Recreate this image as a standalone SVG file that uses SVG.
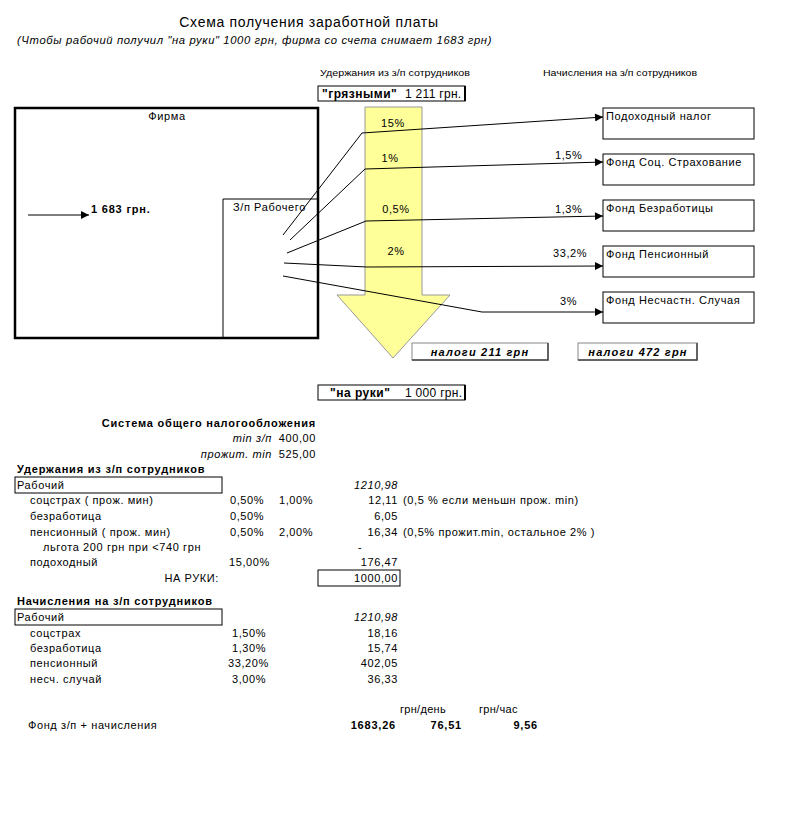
<svg xmlns="http://www.w3.org/2000/svg" width="785" height="813" viewBox="0 0 785 813">
<style>
text{font-family:"Liberation Sans",Arial,sans-serif;font-size:11px;fill:#000;letter-spacing:0.6px}
.b{font-weight:bold;letter-spacing:0.8px}
.i{font-style:italic}
.s{font-size:9.5px;letter-spacing:0}
.e{text-anchor:end}
.m{text-anchor:middle}
.ln{fill:none;stroke:#000;stroke-width:1}
.bx{fill:#fff;stroke:#000;stroke-width:1}
</style>
<defs>
<marker id="ah" viewBox="0 0 10 10" refX="10" refY="5" markerWidth="9" markerHeight="8" markerUnits="userSpaceOnUse" orient="auto">
<path d="M0,0 L10,5 L0,10 z" fill="#000"/>
</marker>
</defs>
<rect width="785" height="813" fill="#fff"/>
<g id="title">
<text x="309" y="27" class="m" style="font-size:14px;letter-spacing:0.7px">Схема получения заработной платы</text>
<text x="17" y="44" class="i" textLength="475" lengthAdjust="spacingAndGlyphs">(Чтобы рабочий получил "на руки" 1000 грн, фирма со счета снимает 1683 грн)</text>
</g>
<g id="headers">
<text x="320" y="76" class="s" textLength="150" lengthAdjust="spacingAndGlyphs">Удержания из з/п сотрудников</text>
<text x="543" y="76" class="s" textLength="154" lengthAdjust="spacingAndGlyphs">Начисления на з/п сотрудников</text>
</g>
<g id="dirty">
<rect x="318" y="86" width="147" height="15" class="bx"/>
<line x1="465" y1="86" x2="465" y2="101" stroke="#000" stroke-width="2"/>
<text x="322" y="98" class="b" style="font-size:12px;letter-spacing:0.5px">"грязными"</text>
<text x="405" y="98" style="font-size:12px;letter-spacing:0.3px">1 211 грн.</text>
</g>
<g id="firm">
<rect x="15" y="108" width="303" height="230" fill="none" stroke="#000" stroke-width="2.5"/>
<text x="167" y="120" class="m">Фирма</text>
<text x="91" y="213" class="b">1 683 грн.</text>
</g>
<g id="worker">
<path d="M223,338 V199 H318" class="ln"/>
<text x="233" y="211">З/п Рабочего</text>
</g>
<g id="bigarrow">
<polygon points="365,107 422,107 422,295 450,295 393,358 337,295 365,295" fill="#FFFF99" stroke="#999" stroke-width="1"/>
<text x="393" y="127" class="m">15%</text>
<text x="390" y="162" class="m">1%</text>
<text x="396" y="213" class="m">0,5%</text>
<text x="396" y="255" class="m">2%</text>
</g>
<g id="boxes">
<g id="n1"><rect x="603" y="108" width="151" height="31" class="bx"/><text x="606" y="120">Подоходный налог</text></g>
<g id="n2"><rect x="603" y="154" width="151" height="31" class="bx"/><text x="606" y="166">Фонд Соц. Страхование</text></g>
<g id="n3"><rect x="603" y="200" width="151" height="31" class="bx"/><text x="606" y="212">Фонд Безработицы</text></g>
<g id="n4"><rect x="603" y="246" width="151" height="31" class="bx"/><text x="606" y="258">Фонд Пенсионный</text></g>
<g id="n5"><rect x="603" y="292" width="151" height="31" class="bx"/><text x="606" y="304">Фонд Несчастн. Случая</text></g>
</g>
<g id="connectors">
<line x1="28" y1="215" x2="89" y2="215" class="ln" marker-end="url(#ah)"/>
<polyline points="283,235 362,133 603,117" class="ln" marker-end="url(#ah)"/>
<polyline points="290,240 365,169 603,162" class="ln" marker-end="url(#ah)"/>
<polyline points="287,253 366,221 603,216" class="ln" marker-end="url(#ah)"/>
<polyline points="284,263 367,267 603,266" class="ln" marker-end="url(#ah)"/>
<polyline points="283,276 482,312 603,312" class="ln" marker-end="url(#ah)"/>
</g>
<g id="rates">
<text x="555" y="159">1,5%</text>
<text x="555" y="213">1,3%</text>
<text x="553" y="257">33,2%</text>
<text x="560" y="305">3%</text>
</g>
<g id="tax1">
<rect x="412" y="343" width="136" height="17" fill="#fff" stroke="#888"/>
<path d="M548,343 V360 H412" fill="none" stroke="#444" stroke-width="1.5"/>
<text x="480" y="356" class="b i m" style="letter-spacing:1.2px">налоги 211 грн</text>
</g>
<g id="tax2">
<rect x="578" y="343" width="119" height="17" fill="#fff" stroke="#888"/>
<path d="M697,343 V360 H578" fill="none" stroke="#444" stroke-width="1.5"/>
<text x="638" y="356" class="b i m" style="letter-spacing:1.2px">налоги 472 грн</text>
</g>
<g id="hands">
<rect x="318" y="385" width="147" height="15" class="bx"/>
<line x1="465" y1="385" x2="465" y2="400" stroke="#000" stroke-width="2"/>
<text x="330" y="397" class="b" style="font-size:12px;letter-spacing:0.5px">"на руки"</text>
<text x="405" y="397" style="font-size:12px;letter-spacing:0.3px">1 000 грн.</text>
</g>
<g id="table">
<text x="316" y="427" class="b e">Система общего налогообложения</text>
<text x="272" y="442" class="i e">min з/п</text><text x="316" y="442" class="e">400,00</text>
<text x="272" y="458" class="i e">прожит. min</text><text x="316" y="458" class="e">525,00</text>
<text x="17" y="473" class="b">Удержания из з/п сотрудников</text>
<rect x="15" y="477" width="207" height="16" class="bx"/>
<text x="17" y="489">Рабочий</text><text x="398" y="489" class="i e">1210,98</text>
<text x="30" y="504">соцстрах ( прож. мин)</text><text x="230" y="504">0,50%</text><text x="279" y="504">1,00%</text><text x="398" y="504" class="e">12,11</text><text x="403" y="504">(0,5 % если меньшн прож. min)</text>
<text x="30" y="520">безработица</text><text x="230" y="520">0,50%</text><text x="398" y="520" class="e">6,05</text>
<text x="30" y="536">пенсионный  ( прож. мин)</text><text x="230" y="536">0,50%</text><text x="279" y="536">2,00%</text><text x="398" y="536" class="e">16,34</text><text x="403" y="536">(0,5% прожит.min, остальное 2% )</text>
<text x="43" y="551">льгота 200 грн при &lt;740 грн</text><text x="358" y="551">-</text>
<text x="30" y="566">подоходный</text><text x="229" y="566">15,00%</text><text x="398" y="566" class="e">176,47</text>
<text x="219" y="582" class="e">НА РУКИ:</text>
<rect x="318" y="570" width="82" height="16" class="bx"/>
<text x="398" y="582" class="e">1000,00</text>
<text x="17" y="605" class="b">Начисления на з/п сотрудников</text>
<rect x="15" y="609" width="207" height="16" class="bx"/>
<text x="17" y="621">Рабочий</text><text x="398" y="621" class="i e">1210,98</text>
<text x="30" y="637">соцстрах</text><text x="232" y="637">1,50%</text><text x="398" y="637" class="e">18,16</text>
<text x="30" y="652">безработица</text><text x="232" y="652">1,30%</text><text x="398" y="652" class="e">15,74</text>
<text x="30" y="667">пенсионный</text><text x="228" y="667">33,20%</text><text x="398" y="667" class="e">402,05</text>
<text x="30" y="683">несч. случай</text><text x="232" y="683">3,00%</text><text x="398" y="683" class="e">36,33</text>
<text x="400" y="713" style="letter-spacing:0.3px">грн/день</text><text x="479" y="713" style="letter-spacing:0.3px">грн/час</text>
<text x="28" y="729">Фонд з/п + начисления</text>
<text x="396" y="729" class="b e">1683,26</text><text x="462" y="729" class="b e">76,51</text><text x="538" y="729" class="b e">9,56</text>
</g>
</svg>
